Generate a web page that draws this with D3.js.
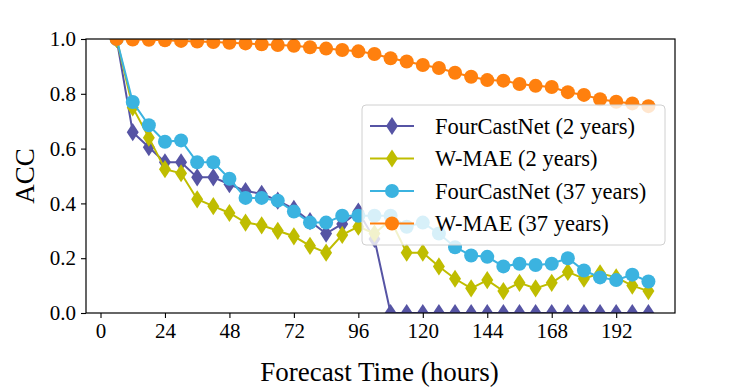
<!DOCTYPE html>
<html>
<head>
<meta charset="utf-8">
<script src="https://cdn.jsdelivr.net/npm/d3@7"></script>
<style>
  body { margin: 0; background: #fff; }
  svg { display: block; }
</style>
</head>
<body>
<div id="chart"></div>
<script>
// Forecast ACC of four models (lead time in hours)
const hours = [6, 12, 18, 24, 30, 36, 42, 48, 54, 60, 66, 72, 78, 84, 90, 96, 102,
  108, 114, 120, 126, 132, 138, 144, 150, 156, 162, 168, 174, 180, 186, 192, 198, 204];

const fourcastnet2y = [1.0, 0.66, 0.605, 0.55, 0.55, 0.495, 0.495, 0.47, 0.445, 0.435, 0.41,
  0.38, 0.335, 0.29, 0.325, 0.37, 0.27,
  0, 0, 0, 0, 0, 0, 0, 0, 0, 0, 0, 0, 0, 0, 0, 0, 0];

const wmae2y = [1.0, 0.75, 0.64, 0.525, 0.51, 0.415, 0.39, 0.365, 0.33, 0.32, 0.30,
  0.28, 0.245, 0.22, 0.285, 0.315, 0.29, 0.34, 0.22, 0.22, 0.17, 0.125,
  0.09, 0.12, 0.08, 0.11, 0.09, 0.11, 0.15, 0.125, 0.145, 0.13, 0.10, 0.08];

const fourcastnet37y = [1.0, 0.77, 0.685, 0.625, 0.63, 0.55, 0.55, 0.49, 0.42, 0.42, 0.41,
  0.37, 0.33, 0.33, 0.355, 0.355, 0.355, 0.355, 0.315, 0.33, 0.29, 0.24,
  0.21, 0.205, 0.17, 0.18, 0.175, 0.18, 0.20, 0.155, 0.13, 0.12, 0.14, 0.115];

const wmae37y = [1.0, 0.998, 0.997, 0.995, 0.993, 0.991, 0.989, 0.986, 0.984, 0.981, 0.978,
  0.975, 0.97, 0.965, 0.96, 0.955, 0.945, 0.93, 0.918, 0.905, 0.894, 0.877,
  0.862, 0.85, 0.848, 0.836, 0.829, 0.825, 0.806, 0.796, 0.78, 0.771, 0.765, 0.755];

const xTicks = [0, 24, 48, 72, 96, 120, 144, 168, 192];
const yTicks = [0.0, 0.2, 0.4, 0.6, 0.8, 1.0];

const series = [
  { name: 'FourCastNet (2 years)', values: fourcastnet2y, color: '#5654a4', marker: 'diamond' },
  { name: 'W-MAE (2 years)', values: wmae2y, color: '#bfbd00', marker: 'diamond' },
  { name: 'FourCastNet (37 years)', values: fourcastnet37y, color: '#3bb3e0', marker: 'circle' },
  { name: 'W-MAE (37 years)', values: wmae37y, color: '#ff800e', marker: 'circle' },
];

const W = 747, H = 390;
const M = { top: 39, right: 72, bottom: 77, left: 86 };
const innerW = W - M.left - M.right;
const innerH = H - M.top - M.bottom;
const FONT = '"Liberation Serif", "Times New Roman", serif';

const svg = d3.select('#chart').append('svg')
  .attr('width', W)
  .attr('height', H);

const x = d3.scaleLinear().domain([-5.4, 213.9]).range([0, innerW]);
const y = d3.scaleLinear().domain([0, 1]).range([innerH, 0]);

const g = svg.append('g').attr('transform', `translate(${M.left},${M.top})`);

g.append('clipPath').attr('id', 'plot-clip')
  .append('rect').attr('width', innerW).attr('height', innerH);

// markers: thin diamond and circle
const diamond = (s) => `M0,${-s * 0.7}L${s * 0.46},0L0,${s * 0.7}L${-s * 0.46},0Z`;

function drawMarker(sel, kind, color) {
  if (kind === 'circle') {
    sel.append('circle').attr('r', 7).attr('fill', color);
  } else {
    sel.append('path').attr('d', diamond(13)).attr('fill', color);
  }
}

const line = d3.line()
  .x((d, i) => x(hours[i]))
  .y(d => y(d));

const plot = g.append('g').attr('clip-path', 'url(#plot-clip)');

series.forEach(s => {
  const sg = plot.append('g');
  sg.append('path')
    .datum(s.values)
    .attr('fill', 'none')
    .attr('stroke', s.color)
    .attr('stroke-width', 2)
    .attr('d', line);
  s.values.forEach((v, i) => {
    const m = sg.append('g').attr('transform', `translate(${x(hours[i])},${y(v)})`);
    drawMarker(m, s.marker, s.color);
  });
});

// axes
const xAxis = g.append('g')
  .attr('transform', `translate(0,${innerH})`)
  .call(d3.axisBottom(x).tickValues(xTicks).tickSize(5).tickPadding(5).tickSizeOuter(0));
const yAxis = g.append('g')
  .call(d3.axisLeft(y).tickValues(yTicks).tickFormat(d3.format('.1f')).tickSize(5).tickPadding(5).tickSizeOuter(0));

[xAxis, yAxis].forEach(a => {
  a.select('.domain').remove();
  a.selectAll('line').attr('stroke', '#000').attr('stroke-width', 1.1);
  a.selectAll('text').attr('font-family', FONT).attr('font-size', 21).attr('fill', '#000');
});

// frame
g.append('rect')
  .attr('width', innerW).attr('height', innerH)
  .attr('fill', 'none').attr('stroke', '#000').attr('stroke-width', 1.2);

// axis titles
svg.append('text')
  .attr('x', M.left + innerW / 2 - 1).attr('y', 381)
  .attr('text-anchor', 'middle')
  .attr('font-family', FONT).attr('font-size', 27)
  .text('Forecast Time (hours)');

svg.append('text')
  .attr('transform', `translate(34,${M.top + innerH / 2}) rotate(-90)`)
  .attr('text-anchor', 'middle')
  .attr('font-family', FONT).attr('font-size', 27)
  .text('ACC');

// legend
const lg = g.append('g').attr('transform', `translate(${362 - M.left},${105 - M.top})`);
lg.append('rect')
  .attr('width', 303).attr('height', 140).attr('rx', 4)
  .attr('fill', 'rgba(255,255,255,0.8)')
  .attr('stroke', '#d0d0d0').attr('stroke-width', 1);

series.forEach((s, i) => {
  const row = lg.append('g').attr('transform', `translate(0,${21 + i * 32.5})`);
  row.append('line')
    .attr('x1', 8).attr('x2', 52)
    .attr('stroke', s.color).attr('stroke-width', 2);
  const m = row.append('g').attr('transform', 'translate(30,0)');
  drawMarker(m, s.marker, s.color);
  row.append('text')
    .attr('x', 73).attr('y', 0).attr('dy', '0.35em')
    .attr('font-family', FONT).attr('font-size', 22.5)
    .text(s.name);
});
</script>
</body>
</html>
